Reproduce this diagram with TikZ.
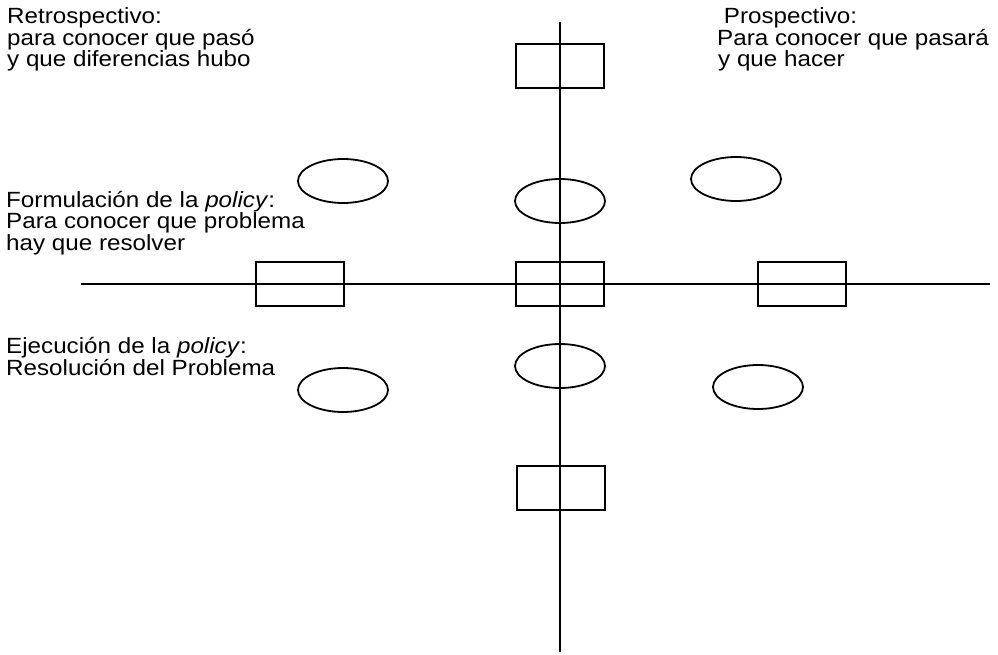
\documentclass[tikz,border=0pt]{standalone}
\usepackage{fontspec}
\setmainfont{Liberation Sans}
\newfontfamily\lab[FakeStretch=1.1]{Liberation Sans}
\usetikzlibrary{shapes.geometric}
\tikzset{
  axis/.style={line width=1.5pt},
  boxnode/.style={draw, line width=1.8pt, minimum width=88pt, minimum height=44pt, inner sep=0pt},
  ovalnode/.style={draw, ellipse, line width=1.8pt, minimum width=90pt, minimum height=44pt, inner sep=0pt},
  txt/.style={anchor=base west, align=left, inner sep=0pt, font={\lab\fontsize{22}{21.5}\selectfont}}
}
\begin{document}
\begin{tikzpicture}[x=1pt,y=-1pt]
\useasboundingbox (0,0) rectangle (998,655);
% axes
\coordinate (vtop) at (560,22);
\coordinate (vbot) at (560,652);
\coordinate (hleft) at (81,284);
\coordinate (hright) at (990,284);
\draw[axis] (vtop) -- (vbot);
\draw[axis] (hleft) -- (hright);
% rectangles
\node[boxnode] (rtop) at (560,66) {};
\node[boxnode] (rcen) at (560,284) {};
\node[boxnode] (rleft) at (300,284) {};
\node[boxnode] (rright) at (802,284) {};
\node[boxnode] (rbot) at (561,488) {};
% ellipses
\node[ovalnode] (e1) at (343,181) {};
\node[ovalnode] (e2) at (560,201) {};
\node[ovalnode] (e3) at (736,179) {};
\node[ovalnode] (e4) at (343,390) {};
\node[ovalnode] (e5) at (560,366) {};
\node[ovalnode] (e6) at (758,387) {};
% texts (anchored at the baseline of the last line)
\node[txt] (tretro) at (7,67) {Retrospectivo:\\para conocer que pasó\\y que diferencias hubo};
\node[txt] (tpros) at (717,67) {\ Prospectivo:\\Para conocer que pasará\\\hspace{1pt}y que hacer};
\node[txt] (tform) at (6,250) {Formulación de la \textit{policy}:\\Para conocer que problema\\hay que resolver};
\node[txt] (tejec) at (6,375) {Ejecución de la \textit{policy}:\\Resolución del Problema};
\end{tikzpicture}
\end{document}
